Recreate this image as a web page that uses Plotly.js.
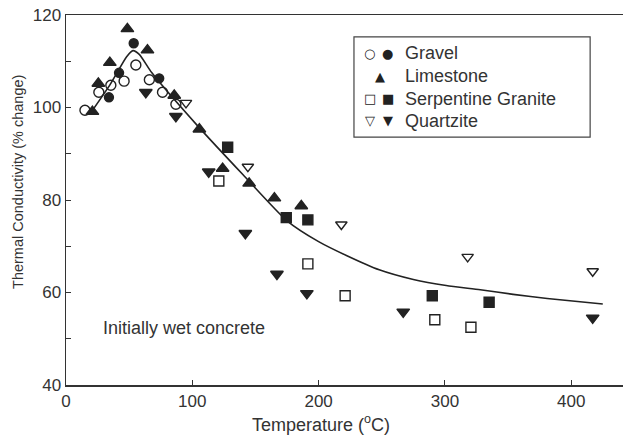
<!DOCTYPE html>
<html><head><meta charset="utf-8">
<script src="https://cdn.plot.ly/plotly-3.0.1.min.js"></script>
<style>html,body{margin:0;padding:0;background:#fff}</style>
</head><body><div id="chart" style="width:623px;height:436px"></div>
<script>
// Fitted curve
const curveX = [20, 35, 48, 53, 58, 68, 103, 140, 175, 200, 222, 248, 275, 301, 328, 354, 381, 425];
const curveY = [99, 105, 111, 112.3, 111.5, 107.5, 96.4, 85.5, 75.5, 71, 68, 64.9, 62.8, 61.5, 60.6, 59.6, 58.7, 57.5];

// Gravel
const gravelOpenX = [15, 26, 35.5, 46, 55.3, 66, 76.4, 87];
const gravelOpenY = [99.4, 103.3, 104.8, 105.7, 109.2, 106, 103.3, 100.7];
const gravelFillX = [34, 42, 53.6, 73.8];
const gravelFillY = [102.2, 107.5, 113.9, 106.3];

// Limestone
const limeX = [20.9, 25.6, 34.7, 48.6, 64.5, 85.7, 105.6, 124, 145, 165, 186.3];
const limeY = [99.1, 105.2, 109.7, 117, 112.4, 102.6, 95.3, 86.8, 83.6, 80.4, 78.7];

// Serpentine Granite
const serpOpenX = [121, 191.5, 221, 292, 320.6];
const serpOpenY = [84.1, 66.2, 59.3, 54.1, 52.5];
const serpFillX = [128, 174.4, 191.5, 290, 335];
const serpFillY = [91.4, 76.2, 75.7, 59.3, 57.9];

// Quartzite
const quartOpenX = [95, 144, 218, 318, 417];
const quartOpenY = [101, 87.2, 74.7, 67.7, 64.6];
const quartFillX = [63.2, 87, 113, 142, 167, 190.7, 267, 417];
const quartFillY = [103.3, 98.1, 86.1, 72.8, 64, 59.8, 55.8, 54.5];

// Text
const xTitle = 'Temperature (<sup>o</sup>C)';
const yTitle = 'Thermal Conductivity (% change)';
const note = 'Initially wet concrete';

const ink = '#222';
function pts(name, x, y, symbol, size) {
  return {type: 'scatter', mode: 'markers', name: name, x: x, y: y, showlegend: false,
    marker: {symbol: symbol, size: size, color: ink, line: {color: ink, width: 1.4}}};
}
const traces = [
  {type: 'scatter', mode: 'lines', x: curveX, y: curveY, line: {color: ink, width: 1.6, shape: 'spline', smoothing: 0.6}, showlegend: false, name: 'fit'},
  pts('Gravel (open)', gravelOpenX, gravelOpenY, 'circle-open', 10),
  pts('Gravel', gravelFillX, gravelFillY, 'circle', 9),
  pts('Limestone', limeX, limeY, 'triangle-up', 11),
  pts('Serpentine Granite (open)', serpOpenX, serpOpenY, 'square-open', 10),
  pts('Serpentine Granite', serpFillX, serpFillY, 'square', 10),
  pts('Quartzite (open)', quartOpenX, quartOpenY, 'triangle-down-open', 10),
  pts('Quartzite', quartFillX, quartFillY, 'triangle-down', 11)
];

const fam = 'Liberation Sans, Arial, sans-serif';
const legendRows = [
  {sym: ['○', '●'], label: 'Gravel', y: 0.897},
  {sym: ['', '▲'], label: 'Limestone', y: 0.834},
  {sym: ['□', '■'], label: 'Serpentine Granite', y: 0.773},
  {sym: ['▽', '▼'], label: 'Quartzite', y: 0.714}
];
const ann = [];
legendRows.forEach(function (r, i) {
  const sx = i === 1 ? [0, 0.564] : [0.545, 0.578];
  if (r.sym[0]) ann.push({xref: 'paper', yref: 'paper', x: sx[0], y: r.y, text: r.sym[0], showarrow: false, xanchor: 'center', yanchor: 'middle', font: {family: 'DejaVu Sans', size: 13, color: ink}});
  ann.push({xref: 'paper', yref: 'paper', x: sx[1], y: r.y, text: r.sym[1], showarrow: false, xanchor: 'center', yanchor: 'middle', font: {family: 'DejaVu Sans', size: 13, color: ink}});
  ann.push({xref: 'paper', yref: 'paper', x: 0.605, y: r.y, text: r.label, showarrow: false, xanchor: 'left', yanchor: 'middle', font: {family: fam, size: 18, color: '#333'}});
});
ann.push({xref: 'paper', yref: 'paper', x: 0.063, y: 0.154, text: note, showarrow: false, xanchor: 'left', yanchor: 'middle', font: {family: fam, size: 18, color: '#333'}});
ann.push({xref: 'paper', yref: 'paper', x: 0.458, y: -0.103, text: xTitle, showarrow: false, xanchor: 'center', yanchor: 'middle', font: {family: fam, size: 18, color: '#333'}});
ann.push({xref: 'paper', yref: 'paper', x: -0.086, y: 0.549, text: yTitle, textangle: -90, showarrow: false, xanchor: 'center', yanchor: 'middle', font: {family: fam, size: 14.5, color: '#333'}});

const layout = {
  width: 623, height: 436,
  margin: {l: 66, r: 0, t: 15, b: 51},
  paper_bgcolor: '#fff', plot_bgcolor: '#fff',
  font: {family: fam, size: 17, color: '#333'},
  showlegend: false,
  xaxis: {range: [0, 441], tickvals: [0, 100, 200, 300, 400], ticks: 'inside', ticklen: 5, tickcolor: '#333',
    tickfont: {size: 17},
    showline: true, linecolor: '#333', linewidth: 1.5, mirror: true, showgrid: false, zeroline: false},
  yaxis: {range: [40, 120], tickvals: [40, 60, 80, 100, 120], ticks: 'inside', ticklen: 5, tickcolor: '#333',
    tickfont: {size: 17},
    minor: {tickvals: [50, 70, 90, 110], ticks: 'inside', ticklen: 5, tickcolor: '#333'},
    showline: true, linecolor: '#333', linewidth: 1.5, showgrid: false, zeroline: false},
  shapes: [{type: 'rect', xref: 'paper', yref: 'paper', x0: 0.517, x1: 0.941, y0: 0.670, y1: 0.941, line: {color: '#444', width: 1.2}}],
  annotations: ann
};
Plotly.newPlot('chart', traces, layout, {staticPlot: true, displayModeBar: false});
</script></body></html>
